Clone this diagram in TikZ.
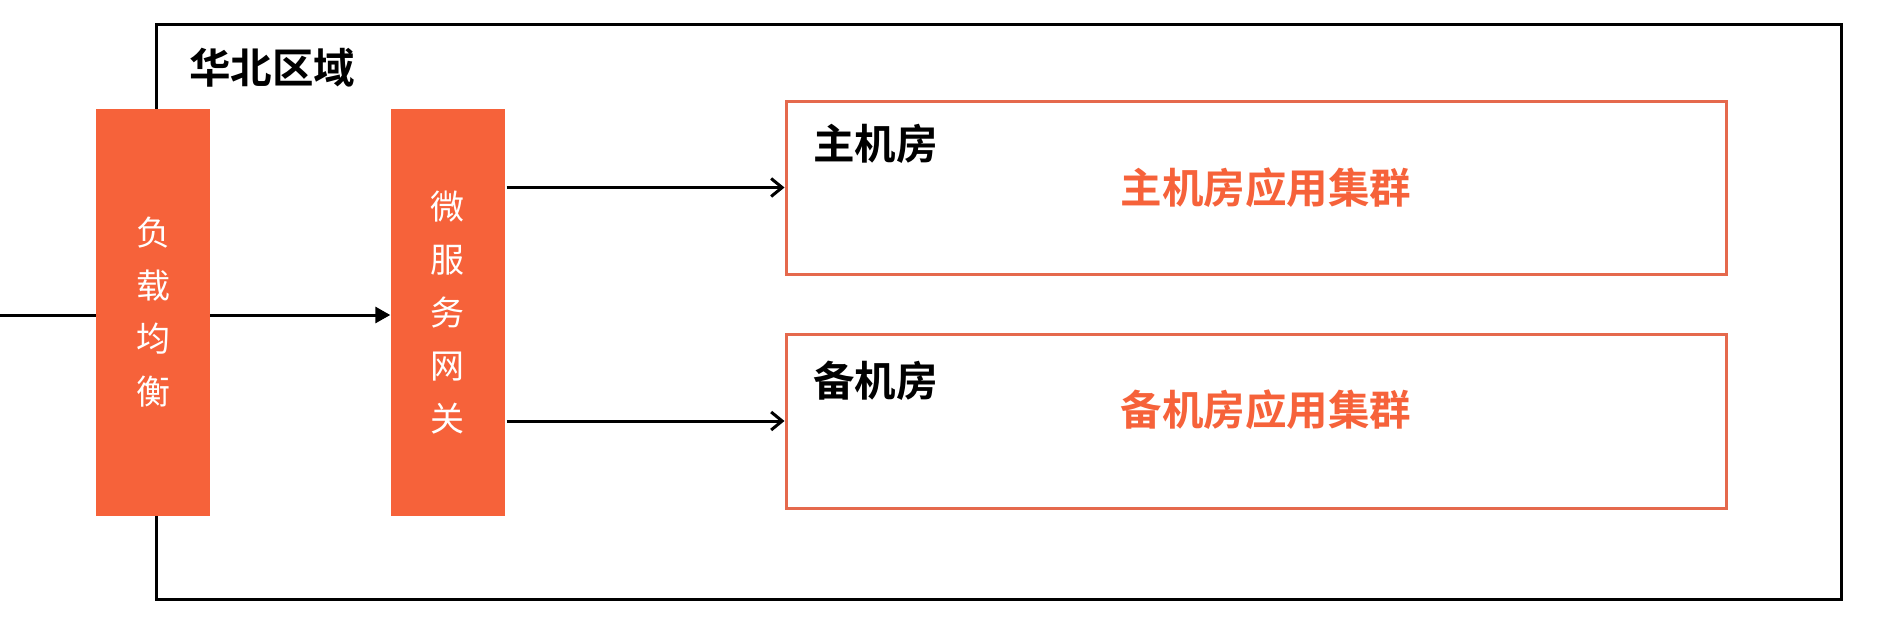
\documentclass[tikz,border=0pt]{standalone}
\usepackage{fontspec}
\newfontfamily\cjk{Noto Sans CJK SC}
\newfontfamily\cjkb{Noto Sans CJK SC Bold}
\usetikzlibrary{arrows.meta,backgrounds}
\definecolor{orfill}{HTML}{F6623A}
\definecolor{orline}{HTML}{E5694D}
\begin{document}
\begin{tikzpicture}[x=1pt,y=-1pt,
  barbox/.style={fill=orfill,draw=none,minimum width=114pt,minimum height=407pt,inner sep=0pt,
    text=white,align=center,font=\cjk\fontsize{34}{53}\selectfont},
  roombox/.style={draw=orline,line width=3pt,minimum width=940pt,inner sep=0pt},
  blacklbl/.style={anchor=west,inner sep=0pt,font=\cjkb\fontsize{41.5}{48}\selectfont,text=black},
  orlbl/.style={inner sep=0pt,font=\cjkb\fontsize{41.5}{48}\selectfont,text=orfill},
  conn/.style={line width=3pt,draw=black}]
\useasboundingbox (0,0) rectangle (1878,626);
\node[draw=black,line width=3pt,minimum width=1685pt,minimum height=575pt,inner sep=0pt] (region) at (998.5,312) {};
\node[blacklbl] (regionlbl) at (189,68) {华北区域};
\node[barbox] (lb) at (153,312.5) {负\\载\\均\\衡};
\node[barbox] (gw) at (447.5,312.5) {微\\服\\务\\网\\关};
\node[roombox,minimum height=173pt] (main) at (1256,187.5) {};
\node[roombox,minimum height=174pt] (backup) at (1256,421) {};
\node[blacklbl] (mainlbl) at (813,144) {主机房};
\node[orlbl] (maincl) at (1266,188) {主机房应用集群};
\node[blacklbl] (backuplbl) at (813,381) {备机房};
\node[orlbl] (backupcl) at (1266,410) {备机房应用集群};
\coordinate (in) at (0,315);
\begin{pgfonlayer}{background}
\fill[white] (0,0) rectangle (1878,626);
\draw[conn,-{Triangle[length=15pt,width=16pt]}] (in) -- (gw.west |- in);
\end{pgfonlayer}
\draw[conn,-{Straight Barb[length=11pt,width=18pt,line width=3pt]},shorten <=2pt] (gw.east |- main.west) -- (main.west);
\draw[conn,-{Straight Barb[length=11pt,width=18pt,line width=3pt]},shorten <=2pt] (gw.east |- backup.west) -- (backup.west);
\end{tikzpicture}
\end{document}
